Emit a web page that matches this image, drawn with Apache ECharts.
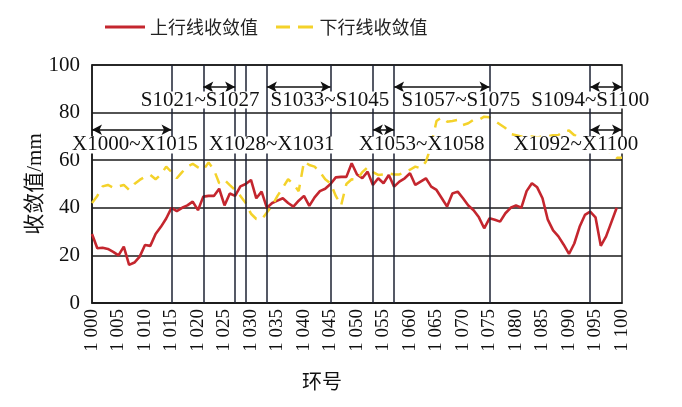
<!DOCTYPE html>
<html>
<head>
<meta charset="utf-8">
<script src="https://cdn.jsdelivr.net/npm/echarts@6/dist/echarts.min.js"></script>
<style>html,body{margin:0;padding:0;background:#fff;}#c{width:682px;height:407px;}</style>
</head>
<body>
<div id="c"></div>
<script>
// ring numbers start at 1000, one value per ring
const startRing = 1000;
const upValues = [29,23,23.2,22.7,21.5,20,23.7,16,17,19.5,
  24.4,24,29,32,35.5,40,38.6,40,41,42.6,
  39,44.7,45,45,48,41,46,45,49,50,
  51.7,44,46.8,40,42,43,44,42,40.5,43,
  45,40.8,44.4,47,48,50,52.8,53,53,58.7,
  54,52.4,55.2,49.6,52.4,50.3,53.8,48.9,51,52.4,
  54.5,49.6,51,52.4,48.9,47.5,44,40.5,46,46.8,
  44,41,39,36,31.4,35.6,35,34.2,37.7,40,
  41,40,47,50.3,48.6,44,35,30.5,28,24.5,
  20.6,25,32,37,38.4,36,24,28,34,40];
const downValues = [42,45,49,49.6,48.5,49,49.6,47.5,50,51.7,
  53,53.8,52,54,57.3,55,52.4,55,57.3,58.5,
  57,55.9,59,56,50.3,51.7,49.5,47.5,45,42,
  37.5,35.3,35,38,41,45,48.5,52,50,47,
  59.4,58,57.3,55,52,50.3,45,41,50,52,
  51.7,55,57,55,53.8,54,54.5,54,54,55,
  56,57.3,56.6,59.4,66,76.5,78,76.2,76.5,76.9,
  74.8,75.5,77,77,78.3,78,76.5,75,73.5,71,
  70.5,70,70,70,69.5,70,70,70.5,70.6,72,
  72.5,70.5,70,69,68,67,66,64,63,61,61];
const seriesNames = ['上行线收敛值', '下行线收敛值'];
// section boundary rings (vertical lines)
const boundaryRings = [1015, 1021, 1027, 1029, 1033, 1045, 1053, 1057, 1075, 1094];
// section arrows: [from, to]
const sArrows = [[1021, 1027], [1033, 1045], [1057, 1075], [1094, 1100]];
const xArrows = [[1000, 1015], [1053, 1057], [1094, 1100]];
const sArrowLevel = 90.8;
const xArrowLevel = 72.8;
// section labels: [text, ring position]
const sLabels = [['S1021~S1027', 1020.4], ['S1033~S1045', 1044.9], ['S1057~S1075', 1069.6], ['S1094~S1100', 1094.0]];
const xLabels = [['X1000~X1015', 1008.1], ['X1028~X1031', 1033.9], ['X1053~X1058', 1062.2], ['X1092~X1100', 1091.3]];
const sLabelLevel = 85.3;
const xLabelLevel = 66.4;
const yTicks = [0, 20, 40, 60, 80, 100];

const upData = upValues.map((v, i) => [startRing + i, v]);
const downData = downValues.map((v, i) => [startRing + i, v]);

const serif = '"Liberation Serif", "Times New Roman", serif';
const cjk = '"Liberation Serif", "Noto Sans CJK SC", serif';

const chart = echarts.init(document.getElementById('c'), null, {renderer: 'canvas'});
const arrowLine = (a, lvl) => [{coord: [a[0], lvl]}, {coord: [a[1], lvl]}];
const labelPoint = (l, lvl) => ({name: l[0], coord: [l[1], lvl]});

chart.setOption({
  animation: false,
  backgroundColor: '#fff',
  legend: {
    data: [
      {name: seriesNames[0], icon: 'path://M0,0h40v3h-40z'},
      {name: seriesNames[1], icon: 'path://M0,0h14v3h-14z M22,0h15v3h-15z'}
    ],
    left: 100, top: 13,
    itemWidth: 40, itemHeight: 3, itemGap: 18,
    textStyle: {fontSize: 18, color: '#222', fontFamily: '"Noto Sans CJK SC", sans-serif'}
  },
  grid: {left: 92, right: 60, top: 65, bottom: 104, show: true, borderColor: '#1a1a1a', borderWidth: 1.5, backgroundColor: 'transparent'},
  xAxis: {
    type: 'value', min: 1000, max: 1100, interval: 5,
    name: '环号', nameLocation: 'middle', nameGap: 71, nameMoveOverlap: false,
    nameTextStyle: {fontSize: 20, color: '#111', fontFamily: cjk, padding: [0, 70, 0, 0]},
    axisLine: {show: true, lineStyle: {color: '#1a1a1a', width: 1.5}},
    axisTick: {show: false},
    splitLine: {show: false},
    axisLabel: {rotate: 90, margin: 6, fontSize: 19, color: '#111', fontFamily: serif,
      formatter: v => String(v).charAt(0) + ' ' + String(v).slice(1)}
  },
  yAxis: {
    type: 'value', min: yTicks[0], max: yTicks[yTicks.length - 1], interval: 20,
    name: '收敛值/mm', nameLocation: 'middle', nameGap: 46, nameRotate: 90, nameMoveOverlap: false,
    nameTextStyle: {fontSize: 21, color: '#111', fontFamily: cjk},
    axisLine: {show: true, lineStyle: {color: '#1a1a1a', width: 1.5}},
    axisTick: {show: false},
    splitLine: {show: true, lineStyle: {color: '#1a1a1a', width: 1.5}},
    axisLabel: {margin: 12, fontSize: 21, color: '#111', fontFamily: serif}
  },
  series: [
    {
      name: '_bounds', type: 'line', data: [], z: 1, silent: true,
      markLine: {
        silent: true, symbol: ['none', 'none'], label: {show: false},
        lineStyle: {color: '#1c2233', width: 1.5, type: 'solid'},
        data: boundaryRings.map(r => ({xAxis: r}))
      }
    },
    {
      name: seriesNames[0], type: 'line', data: upData, z: 2,
      showSymbol: false, symbol: 'none',
      lineStyle: {color: '#c4262e', width: 2.6},
      itemStyle: {color: '#c4262e'}
    },
    {
      name: seriesNames[1], type: 'line', data: downData, z: 2,
      showSymbol: false, symbol: 'none',
      lineStyle: {color: '#f4d22a', width: 2.5, type: [11, 8]},
      itemStyle: {color: '#f4d22a'}
    },
    {
      name: '_notes', type: 'line', data: [], z: 3, silent: true,
      markLine: {
        silent: true, symbol: ['arrow', 'arrow'], symbolSize: [8, 10], label: {show: false},
        lineStyle: {color: '#111', width: 1.5, type: 'solid'},
        data: sArrows.map(a => arrowLine(a, sArrowLevel)).concat(xArrows.map(a => arrowLine(a, xArrowLevel)))
      },
      markPoint: {
        silent: true, symbol: 'circle', symbolSize: 1,
        itemStyle: {color: 'rgba(0,0,0,0)'},
        label: {show: true, position: 'inside', formatter: p => p.name,
          fontSize: 21, lineHeight: 17, color: '#111', fontFamily: serif, backgroundColor: '#fff', padding: [0, 1, 0, 1]},
        data: sLabels.map(l => labelPoint(l, sLabelLevel)).concat(xLabels.map(l => labelPoint(l, xLabelLevel)))
      }
    }
  ]
});
</script>
</body>
</html>
